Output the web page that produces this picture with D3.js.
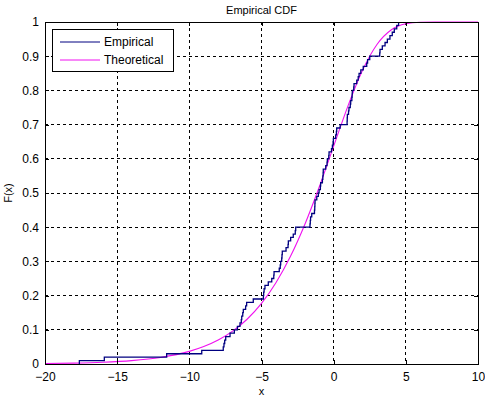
<!DOCTYPE html>
<html>
<head>
<meta charset="utf-8">
<script src="https://cdn.jsdelivr.net/npm/d3@7"></script>
<style>
  body { margin: 0; background: #fff; }
  svg { display: block; font-family: "Liberation Sans", Arial, sans-serif; }
</style>
</head>
<body>
<svg id="chart" width="485" height="398"></svg>
<script>
// sorted sample values (n = 100)
const samples = [
  -17.62, -15.89, -11.57, -9.14, -7.65, -7.60, -7.55, -7.48, -7.18, -6.88,
  -6.67, -6.49, -6.40, -6.37, -6.30, -6.26, -6.10, -6.03, -5.57, -4.87,
  -4.85, -4.82, -4.76, -4.53, -4.29, -4.15, -4.13, -3.77, -3.70, -3.67,
  -3.60, -3.58, -3.56, -3.30, -3.16, -3.14, -2.98, -2.80, -2.66, -2.63,
  -1.64, -1.62, -1.60, -1.52, -1.33, -1.31, -1.30, -1.29, -1.17, -1.06,
  -1.01, -0.92, -0.90, -0.78, -0.75, -0.73, -0.72, -0.55, -0.46, -0.44,
  -0.34, -0.32, -0.15, -0.09, -0.04, -0.02, 0.14, 0.19, 0.21, 0.45,
  0.93, 0.94, 0.95, 1.03, 1.06, 1.15, 1.18, 1.26, 1.28, 1.29,
  1.39, 1.41, 1.60, 1.70, 1.76, 1.88, 2.05, 2.29, 2.35, 2.50,
  3.19, 3.21, 3.37, 3.56, 3.72, 3.90, 4.06, 4.20, 4.37, 4.50
];

// theoretical curve, read at whole x values
const theoX = [-20, -18, -16, -14, -12, -10, -9, -8, -7, -6, -5, -4, -3, -2, -1,
  0, 1, 2, 3, 4, 5, 6, 7, 8, 9, 10];
const theoF = [0.0014, 0.0027, 0.0052, 0.0100, 0.0192, 0.0369, 0.0509, 0.0700, 0.0961,
  0.1309, 0.1772, 0.2376, 0.3141, 0.4080, 0.5176, 0.6370, 0.7556, 0.8589, 0.9343,
  0.9773, 0.9948, 0.9993, 1, 1, 1, 1];

const xTicks = [-20, -15, -10, -5, 0, 5, 10];
const yTicks = [0, 0.1, 0.2, 0.3, 0.4, 0.5, 0.6, 0.7, 0.8, 0.9, 1];

const margin = { top: 22, right: 7, bottom: 34, left: 45 };
const width = 485 - margin.left - margin.right;
const height = 398 - margin.top - margin.bottom;

const svg = d3.select('#chart');
const g = svg.append('g')
  .attr('transform', `translate(${margin.left},${margin.top})`);

const x = d3.scaleLinear().domain([-20, 10]).range([0, width]);
const y = d3.scaleLinear().domain([0, 1]).range([height, 0]);

// grid
g.append('g').selectAll('line')
  .data(xTicks.slice(1, -1))
  .enter().append('line')
  .attr('x1', d => x(d)).attr('x2', d => x(d))
  .attr('y1', 0).attr('y2', height)
  .attr('stroke', '#000').attr('stroke-dasharray', '3,3').attr('shape-rendering', 'crispEdges');

g.append('g').selectAll('line')
  .data(yTicks.slice(1, -1))
  .enter().append('line')
  .attr('y1', d => y(d)).attr('y2', d => y(d))
  .attr('x1', 0).attr('x2', width)
  .attr('stroke', '#000').attr('stroke-dasharray', '3,3').attr('shape-rendering', 'crispEdges');

// theoretical
const theo = theoX.map((v, i) => [v, theoF[i]]);
g.append('path')
  .datum(theo)
  .attr('fill', 'none')
  .attr('stroke', '#f010f0')
  .attr('stroke-width', 1.1)
  .attr('d', d3.line().x(d => x(d[0])).y(d => y(d[1])).curve(d3.curveMonotoneX));

// empirical staircase
const n = samples.length;
const steps = [[samples[0], 0]].concat(samples.map((v, i) => [v, (i + 1) / n]));
g.append('path')
  .datum(steps)
  .attr('fill', 'none')
  .attr('stroke', '#000080')
  .attr('stroke-width', 1.3)
  .attr('d', d3.line().x(d => x(d[0])).y(d => y(d[1])).curve(d3.curveStepAfter));

// axes
g.append('g')
  .attr('transform', `translate(0,${height})`)
  .call(d3.axisBottom(x).tickValues(xTicks).tickSize(-4).tickPadding(8));
g.append('g')
  .call(d3.axisLeft(y).tickValues(yTicks).tickSize(-4).tickPadding(6).tickFormat(d3.format('')));
g.append('g')
  .call(d3.axisTop(x).tickValues(xTicks).tickSize(-4).tickFormat(''));
g.append('g')
  .attr('transform', `translate(${width},0)`)
  .call(d3.axisRight(y).tickValues(yTicks).tickSize(-4).tickFormat(''));

g.selectAll('.domain').attr('stroke', '#000').attr('shape-rendering', 'crispEdges');
g.selectAll('.tick line').attr('stroke', '#000').attr('shape-rendering', 'crispEdges');
g.selectAll('.tick text').attr('font-size', 12).attr('fill', '#000')
  .attr('font-family', '"Liberation Sans", Arial, sans-serif');

// title and labels
svg.append('text')
  .attr('x', margin.left + width / 2).attr('y', 14)
  .attr('text-anchor', 'middle').attr('font-size', 11)
  .text('Empirical CDF');

svg.append('text')
  .attr('x', margin.left + width / 2).attr('y', 395)
  .attr('text-anchor', 'middle').attr('font-size', 11)
  .text('x');

svg.append('text')
  .attr('transform', `translate(12,${margin.top + height / 2}) rotate(-90)`)
  .attr('text-anchor', 'middle').attr('font-size', 11)
  .text('F(x)');

// legend
const legend = g.append('g').attr('transform', 'translate(7,7)');
legend.append('rect')
  .attr('width', 121).attr('height', 42)
  .attr('fill', '#fff').attr('stroke', '#000').attr('shape-rendering', 'crispEdges');

const legendItems = [
  { name: 'Empirical', color: '#000080' },
  { name: 'Theoretical', color: '#f010f0' }
];
legendItems.forEach((d, i) => {
  const yy = 13 + i * 18;
  legend.append('line')
    .attr('x1', 8).attr('x2', 48).attr('y1', yy).attr('y2', yy)
    .attr('stroke', d.color);
  legend.append('text')
    .attr('x', 52).attr('y', yy + 4)
    .attr('font-size', 12)
    .text(d.name);
});
</script>
</body>
</html>
